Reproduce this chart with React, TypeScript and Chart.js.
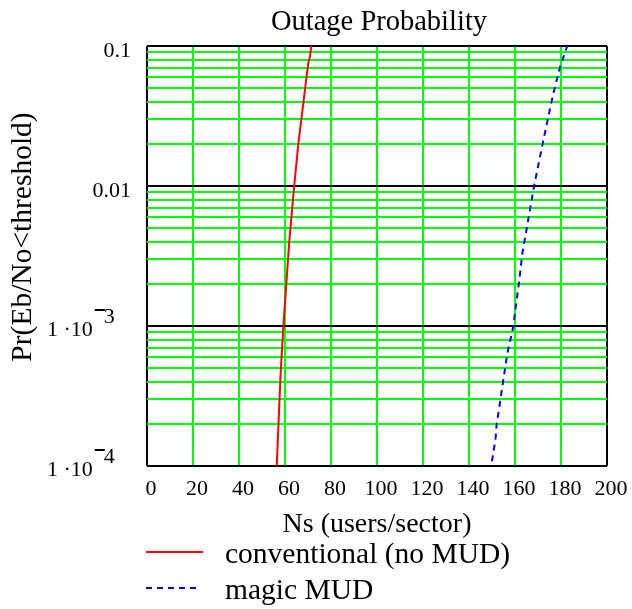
import React, { useEffect, useRef } from "react";
import { Chart, registerables } from "chart.js";

Chart.register(...registerables);

const titleText = "Outage Probability";
const xTitle = "Ns (users/sector)";
const yTitle = "Pr(Eb/No<threshold)";

const xTicks = [0, 20, 40, 60, 80, 100, 120, 140, 160, 180, 200];
const xTickLabels = ["0", "20", "40", "60", "80", "100", "120", "140", "160", "180", "200"];

const yMajor = [1e-4, 1e-3, 1e-2, 1e-1];
const yMinorMultipliers = [2, 3, 4, 5, 6, 7, 8, 9];

const seriesNames = ["conventional (no MUD)", "magic MUD"];

const redNs = [56.4, 58.1, 59.3, 61.9, 64.0, 65.8, 70.1, 70.9, 71.4];
const redPr = [1e-4, 4.6e-4, 1e-3, 4.1e-3, 1e-2, 2.0e-2, 7.5e-2, 8.5e-2, 0.1];

const blueNs = [149.9, 150.3, 151.6, 152.0, 153.0, 154.7, 156.7, 159.3, 160.7, 161.7, 163.2, 168.3, 172.0, 174.8, 176.7, 179.6, 182.7];
const bluePr = [1.08e-4, 1.16e-4, 1.6e-4, 2.0e-4, 2.5e-4, 3.9e-4, 6.4e-4, 1.0e-3, 1.53e-3, 2.02e-3, 3.3e-3, 1.0e-2, 2.0e-2, 3.3e-2, 4.6e-2, 7.1e-2, 0.1];

const FONT = '"Liberation Serif", "Times New Roman", serif';

function buildYTicks(): number[] {
  const out: number[] = [];
  for (let i = 0; i < yMajor.length; i++) {
    out.push(yMajor[i]);
    if (i < yMajor.length - 1) {
      for (const m of yMinorMultipliers) out.push(m * yMajor[i]);
    }
  }
  return out;
}

const isMajor = (v: number) => yMajor.some((m) => Math.abs(v - m) / m < 1e-6);

const textPlugin = {
  id: "textPlugin",
  afterDraw(chart: any) {
    const ctx = chart.ctx as CanvasRenderingContext2D;
    const xs = chart.scales.x;
    const ys = chart.scales.y;
    const area = chart.chartArea;
    ctx.save();
    ctx.fillStyle = "#000";

    // title
    ctx.font = `28.5px ${FONT}`;
    ctx.textAlign = "center";
    ctx.textBaseline = "alphabetic";
    ctx.fillText(titleText, (area.left + area.right) / 2 + 2, 30);

    // x tick labels
    ctx.font = `22px ${FONT}`;
    ctx.textAlign = "center";
    xTicks.forEach((v, i) => {
      ctx.fillText(xTickLabels[i], xs.getPixelForValue(v) + 4, 495);
    });

    // y tick labels
    yMajor.forEach((v) => {
      const py = ys.getPixelForValue(v);
      const exp = Math.round(Math.log10(v));
      if (exp >= -2) {
        ctx.textAlign = "right";
        ctx.font = `22px ${FONT}`;
        ctx.fillText(v.toString(), area.left - 16, py + 11);
      } else {
        ctx.textAlign = "left";
        ctx.font = `22px ${FONT}`;
        const base = "1 \u00b710";
        const bx = area.left - 100;
        const by = py + 10;
        ctx.fillText(base, bx, by);
        const w = ctx.measureText(base).width;
        const sx = bx + w + 2;
        ctx.fillRect(sx, by - 27, 10, 2);
        ctx.fillText(String(-exp), sx + 9, by - 13);
      }
    });

    // x axis title
    ctx.font = `28px ${FONT}`;
    ctx.textAlign = "center";
    ctx.fillText(xTitle, (area.left + area.right) / 2, 532);

    // y axis title
    ctx.save();
    ctx.translate(31, 237);
    ctx.rotate(-Math.PI / 2);
    ctx.textAlign = "center";
    ctx.font = `29.5px ${FONT}`;
    ctx.fillText(yTitle, 0, 0);
    ctx.restore();

    // legend
    const ds = chart.data.datasets;
    const rows = [552, 588];
    ds.forEach((d: any, i: number) => {
      ctx.save();
      ctx.strokeStyle = d.borderColor;
      ctx.lineWidth = d.borderWidth;
      ctx.setLineDash(d.borderDash || []);
      ctx.beginPath();
      ctx.moveTo(146, rows[i]);
      ctx.lineTo(i === 0 ? 203 : 198, rows[i]);
      ctx.stroke();
      ctx.restore();
      ctx.font = `29.5px ${FONT}`;
      ctx.textAlign = "left";
      ctx.fillText(seriesNames[i], 225, rows[i] + 11);
    });

    ctx.restore();
  },
};

export default function App() {
  const ref = useRef<HTMLCanvasElement | null>(null);
  useEffect(() => {
    if (!ref.current) return;
    const yTicks = buildYTicks();
    const chart = new Chart(ref.current, {
      type: "line",
      data: {
        datasets: [
          {
            label: seriesNames[0],
            data: redNs.map((x, i) => ({ x, y: redPr[i] })),
            borderColor: "#ff0000",
            borderWidth: 2,
            pointRadius: 0,
            fill: false,
            tension: 0,
          },
          {
            label: seriesNames[1],
            data: blueNs.map((x, i) => ({ x, y: bluePr[i] })),
            borderColor: "#0000ff",
            borderWidth: 2,
            borderDash: [6, 5],
            pointRadius: 0,
            fill: false,
            tension: 0,
          },
        ],
      },
      options: {
        responsive: false,
        animation: false,
        devicePixelRatio: 1,
        layout: { padding: { left: 147, right: 25, top: 46, bottom: 143 } },
        plugins: {
          legend: { display: false },
          title: { display: false },
          tooltip: { enabled: false },
        },
        scales: {
          x: {
            type: "linear",
            min: 0,
            max: 200,
            afterBuildTicks: (s: any) => {
              s.ticks = xTicks.map((v) => ({ value: v }));
            },
            ticks: { display: false },
            border: { display: false },
            grid: {
              drawTicks: false,
              lineWidth: 2,
              color: (c: any) =>
                c.tick && (c.tick.value === 0 || c.tick.value === 200) ? "#000000" : "#00ff00",
            },
          },
          y: {
            type: "logarithmic",
            min: 1e-4,
            max: 0.1,
            afterBuildTicks: (s: any) => {
              s.ticks = yTicks.map((v) => ({ value: v }));
            },
            ticks: { display: false },
            border: { display: false },
            grid: {
              drawTicks: false,
              lineWidth: 2,
              color: (c: any) => (c.tick && isMajor(c.tick.value) ? "#000000" : "#00ff00"),
            },
          },
        },
      },
      plugins: [textPlugin],
    } as any);
    return () => chart.destroy();
  }, []);
  return (
    <div style={{ position: "fixed", left: 0, top: 0, width: 632, height: 609, background: "#fff" }}>
      <canvas ref={ref} width={632} height={609} style={{ width: 632, height: 609 }} />
    </div>
  );
}
